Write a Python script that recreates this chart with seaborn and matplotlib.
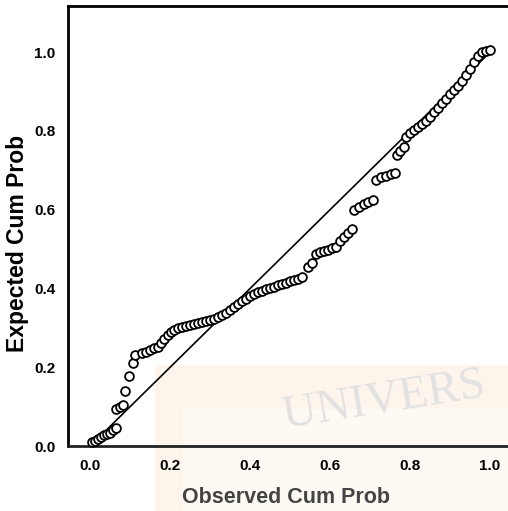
import matplotlib
matplotlib.use("Agg")
import matplotlib.pyplot as plt
from matplotlib.patches import Rectangle
import seaborn as sns
import pandas as pd
import numpy as np

# observed vs expected cumulative probabilities
observed = [0.005, 0.012, 0.020, 0.028, 0.035, 0.043, 0.050, 0.058, 0.064,
            0.065, 0.075, 0.082,
            0.088, 0.097, 0.108, 0.113,
            0.130, 0.140, 0.150, 0.160, 0.170,
            0.178, 0.186, 0.194, 0.202, 0.210, 0.220, 0.230, 0.240, 0.250,
            0.260, 0.270, 0.280, 0.290, 0.300, 0.310,
            0.320, 0.330, 0.340, 0.350, 0.360, 0.370, 0.380, 0.390, 0.400,
            0.410, 0.420, 0.430, 0.440, 0.450, 0.460, 0.470, 0.480, 0.490,
            0.500, 0.510, 0.520, 0.530,
            0.545, 0.555,
            0.565, 0.575, 0.585, 0.595, 0.605, 0.615,
            0.625, 0.635, 0.645, 0.655,
            0.660, 0.672, 0.684, 0.696, 0.708,
            0.715, 0.728, 0.740, 0.752, 0.762,
            0.768, 0.776, 0.784,
            0.790, 0.800, 0.810, 0.820, 0.830, 0.840, 0.850,
            0.860, 0.870, 0.880, 0.890, 0.900, 0.910, 0.920, 0.930, 0.940,
            0.950, 0.960, 0.970, 0.980, 0.990, 1.000]
expected = [0.010, 0.014, 0.018, 0.022, 0.027, 0.030, 0.034, 0.040, 0.045,
            0.095, 0.100, 0.105,
            0.140, 0.178, 0.210, 0.232,
            0.236, 0.240, 0.244, 0.248, 0.252,
            0.262, 0.272, 0.282, 0.290, 0.296, 0.300, 0.302, 0.305, 0.308,
            0.310, 0.313, 0.316, 0.318, 0.320, 0.323,
            0.328, 0.332, 0.338, 0.345, 0.352, 0.360, 0.368, 0.374, 0.380,
            0.385, 0.390, 0.395, 0.398, 0.402, 0.405, 0.408, 0.411, 0.414,
            0.418, 0.421, 0.425, 0.430,
            0.455, 0.465,
            0.488, 0.492, 0.496, 0.499, 0.502, 0.506,
            0.520, 0.530, 0.540, 0.550,
            0.600, 0.608, 0.614, 0.620, 0.626,
            0.676, 0.682, 0.686, 0.690, 0.694,
            0.738, 0.748, 0.760,
            0.785, 0.795, 0.802, 0.810, 0.818, 0.826, 0.836,
            0.848, 0.858, 0.870, 0.882, 0.894, 0.904, 0.915, 0.928, 0.942,
            0.958, 0.974, 0.990, 1.000, 1.004, 1.006]
ref_line = [0.0, 1.0]
ticks = [0.0, 0.2, 0.4, 0.6, 0.8, 1.0]
tick_labels = ["0.0", "0.2", "0.4", "0.6", "0.8", "1.0"]

df = pd.DataFrame({"Observed Cum Prob": observed, "Expected Cum Prob": expected})

sns.set_style("white")
plt.rcParams["font.family"] = ["Liberation Sans", "DejaVu Sans"]

fig = plt.figure(figsize=(5.08, 5.11), dpi=100)

# faint logo shading behind the lower right of the chart
fig.patches.append(Rectangle((0.305, 0.0), 0.695, 0.285, transform=fig.transFigure,
                             facecolor="#fdf5ec", edgecolor="none", zorder=0))
fig.patches.append(Rectangle((0.36, 0.0), 0.64, 0.20, transform=fig.transFigure,
                             facecolor="#fef9f2", edgecolor="none", zorder=0))

ax = fig.add_axes([0.134, 0.127, 0.866, 0.861])
ax.set_zorder(2)
ax.patch.set_alpha(0)

# watermark text ending at the right edge
ax.text(0.995, 0.115, "UNIVERS", fontsize=34, family="Liberation Serif",
        color="#e2e2e2", rotation=9, ha="right", va="center", zorder=0)

sns.lineplot(x=ref_line, y=ref_line, ax=ax, color="black", linewidth=1.2)
sns.scatterplot(data=df, x="Observed Cum Prob", y="Expected Cum Prob", ax=ax,
                facecolor="white", edgecolor="black", linewidth=1.3, s=40,
                zorder=3, clip_on=False)

ax.set_xlim(-0.055, 1.045)
ax.set_ylim(0.0, 1.117)
ax.set_xticks(ticks)
ax.set_xticklabels(tick_labels)
ax.set_yticks(ticks)
ax.set_yticklabels(tick_labels)
ax.tick_params(axis="both", direction="out", length=7, width=1.5, labelsize=11,
               colors="black", pad=2)
for lab in ax.get_xticklabels() + ax.get_yticklabels():
    lab.set_fontweight("bold")

ax.set_xlabel("Observed Cum Prob", fontsize=15.5, fontweight="bold", color="#444444")
ax.set_ylabel("Expected Cum Prob", fontsize=16.5, fontweight="bold", color="black")
ax.xaxis.set_label_coords(0.495, -0.092)
ax.yaxis.set_label_coords(-0.088, 0.46)
ax.xaxis.label.set_va("top")

for side in ["left", "bottom", "top"]:
    ax.spines[side].set_visible(True)
    ax.spines[side].set_linewidth(2)
    ax.spines[side].set_color("black")
ax.spines["bottom"].set_color("#222222")
ax.spines["right"].set_visible(False)

fig.savefig("out.png", dpi=100)
